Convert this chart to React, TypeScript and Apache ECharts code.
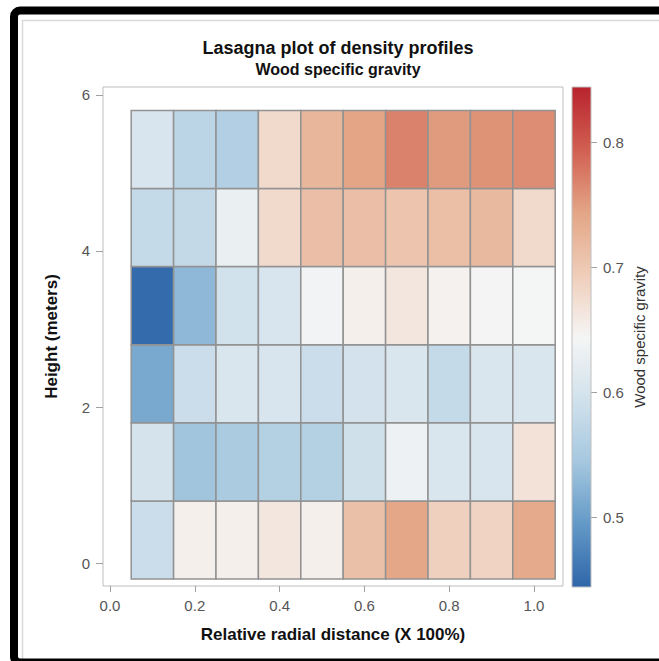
import React, { useEffect, useRef } from "react";
import * as echarts from "echarts";

// ---- data ----
const xCenters = [0.1, 0.2, 0.3, 0.4, 0.5, 0.6, 0.7, 0.8, 0.9, 1.0];
const heights = [0.3, 1.3, 2.3, 3.3, 4.3, 5.3];
const sgRow0 = [0.587, 0.652, 0.652, 0.663, 0.652, 0.71, 0.741, 0.69, 0.686, 0.738];
const sgRow1 = [0.6, 0.542, 0.551, 0.561, 0.561, 0.592, 0.634, 0.607, 0.604, 0.668];
const sgRow2 = [0.511, 0.587, 0.607, 0.605, 0.587, 0.597, 0.607, 0.58, 0.607, 0.607];
const sgRow3 = [0.449, 0.527, 0.596, 0.605, 0.64, 0.652, 0.663, 0.649, 0.645, 0.643];
const sgRow4 = [0.58, 0.578, 0.629, 0.678, 0.711, 0.711, 0.704, 0.712, 0.719, 0.679];
const sgRow5 = [0.605, 0.57, 0.56, 0.678, 0.723, 0.744, 0.769, 0.752, 0.757, 0.761];
const sgRows = [sgRow0, sgRow1, sgRow2, sgRow3, sgRow4, sgRow5];

const xTicks = [0, 0.2, 0.4, 0.6, 0.8, 1.0];
const yTicks = [0, 2, 4, 6];
const cbTicks = [0.5, 0.6, 0.7, 0.8];
const colorMin = 0.444;
const colorMax = 0.844;
const rampColors = [
  "#2f66a9",
  "#6399c7",
  "#a5c7df",
  "#d1e1ec",
  "#f5f5f5",
  "#efcdb9",
  "#e3a585",
  "#d15f51",
  "#b8232d",
];

const CELL_W = 0.1;
const CELL_H = 1.0;
const FONT = "'Liberation Sans', Arial, sans-serif";

export default function App() {
  const ref = useRef<HTMLDivElement>(null);

  useEffect(() => {
    if (!ref.current) return;
    const chart = echarts.init(ref.current, null, { renderer: "svg" });

    const cells: number[][] = [];
    sgRows.forEach((row, i) => {
      row.forEach((v, j) => {
        cells.push([xCenters[j], heights[i], v]);
      });
    });

    const gradStops = rampColors
      .map((c, i) => ({ offset: 1 - i / (rampColors.length - 1), color: c }))
      .reverse();

    const option: any = {
      animation: false,
      backgroundColor: "#ffffff",
      title: [
        {
          text: "Lasagna plot of density profiles",
          left: 333,
          top: 34,
          textAlign: "center",
          textStyle: { fontFamily: FONT, fontSize: 18, fontWeight: "bold", color: "#111" },
        },
        {
          text: "Wood specific gravity",
          left: 333,
          top: 56,
          textAlign: "center",
          textStyle: { fontFamily: FONT, fontSize: 16, fontWeight: "bold", color: "#111" },
        },
      ],
      graphic: [
        {
          type: "rect",
          silent: true,
          shape: { x: 22.5, y: 20.5, width: 700, height: 640 },
          style: { fill: "none", stroke: "#d9d9d9", lineWidth: 1.5 },
        },
        {
          type: "rect",
          silent: true,
          shape: { x: 14, y: 10.5, width: 700, height: 652, r: 6 },
          style: { fill: "none", stroke: "#000", lineWidth: 8 },
        },
      ],
      grid: [
        {
          left: 103,
          top: 87,
          width: 460,
          height: 499,
          show: true,
          borderColor: "#bdbdbd",
          borderWidth: 1,
          backgroundColor: "transparent",
        },
        { left: 572, top: 87, width: 19, height: 500, show: false },
      ],
      xAxis: [
        {
          type: "value",
          gridIndex: 0,
          min: -0.0165,
          max: 1.0684,
          name: "Relative radial distance (X 100%)",
          nameLocation: "middle",
          nameGap: 40,
          nameTextStyle: { fontFamily: FONT, fontSize: 17, fontWeight: "bold", color: "#111" },
          axisLine: { show: false, onZero: false },
          splitLine: { show: false },
          axisTick: {
            show: true,
            length: 6,
            customValues: xTicks,
            lineStyle: { color: "#a0a0a0" },
          },
          axisLabel: {
            customValues: xTicks,
            formatter: (v: number) => v.toFixed(1),
            fontFamily: FONT,
            fontSize: 15,
            color: "#555",
            margin: 12,
          },
        },
        { type: "value", gridIndex: 1, min: 0, max: 1, show: false, axisLine: { onZero: false } },
      ],
      yAxis: [
        {
          type: "value",
          gridIndex: 0,
          min: -0.29,
          max: 6.1,
          name: "Height (meters)",
          nameLocation: "middle",
          nameGap: 43,
          nameTextStyle: { fontFamily: FONT, fontSize: 17, fontWeight: "bold", color: "#111" },
          axisLine: { show: false, onZero: false },
          splitLine: { show: false },
          axisTick: {
            show: true,
            length: 7,
            customValues: yTicks,
            lineStyle: { color: "#a0a0a0" },
          },
          axisLabel: {
            customValues: yTicks,
            formatter: (v: number) => String(v),
            fontFamily: FONT,
            fontSize: 15,
            color: "#555",
            margin: 13,
          },
        },
        {
          type: "value",
          gridIndex: 1,
          position: "right",
          min: colorMin,
          max: colorMax,
          name: "Wood specific gravity",
          nameLocation: "middle",
          nameGap: 41,
          nameTextStyle: { fontFamily: FONT, fontSize: 15, color: "#333" },
          axisLine: { show: false, onZero: false },
          splitLine: { show: false },
          axisTick: {
            show: true,
            length: 6,
            customValues: cbTicks,
            lineStyle: { color: "#a0a0a0" },
          },
          axisLabel: {
            customValues: cbTicks,
            formatter: (v: number) => v.toFixed(1),
            fontFamily: FONT,
            fontSize: 15,
            color: "#555",
            margin: 12,
          },
        },
      ],
      visualMap: {
        type: "continuous",
        show: false,
        min: colorMin,
        max: colorMax,
        dimension: 2,
        seriesIndex: 0,
        inRange: { color: rampColors },
      },
      series: [
        {
          type: "custom",
          xAxisIndex: 0,
          yAxisIndex: 0,
          clip: false,
          encode: { x: 0, y: 1 },
          data: cells,
          renderItem: (params: any, api: any) => {
            const x = api.value(0);
            const y = api.value(1);
            const p0 = api.coord([x - CELL_W / 2, y + CELL_H / 2]);
            const p1 = api.coord([x + CELL_W / 2, y - CELL_H / 2]);
            return {
              type: "rect",
              shape: { x: p0[0], y: p0[1], width: p1[0] - p0[0], height: p1[1] - p0[1] },
              style: { fill: api.visual("color"), stroke: "#929292", lineWidth: 1.5 },
            };
          },
        },
        {
          type: "custom",
          xAxisIndex: 1,
          yAxisIndex: 1,
          clip: false,
          data: [[0, colorMin, 1, colorMax]],
          renderItem: (params: any, api: any) => {
            const p0 = api.coord([api.value(0), api.value(3)]);
            const p1 = api.coord([api.value(2), api.value(1)]);
            return {
              type: "rect",
              shape: { x: p0[0], y: p0[1], width: p1[0] - p0[0], height: p1[1] - p0[1] },
              style: {
                fill: new echarts.graphic.LinearGradient(0, 0, 0, 1, gradStops),
                stroke: "#c0c0c0",
                lineWidth: 1,
              },
            };
          },
        },
      ],
    };

    chart.setOption(option);
    return () => chart.dispose();
  }, []);

  return (
    <div
      ref={ref}
      style={{ position: "absolute", left: 0, top: 0, width: 659, height: 661, background: "#fff" }}
    />
  );
}
